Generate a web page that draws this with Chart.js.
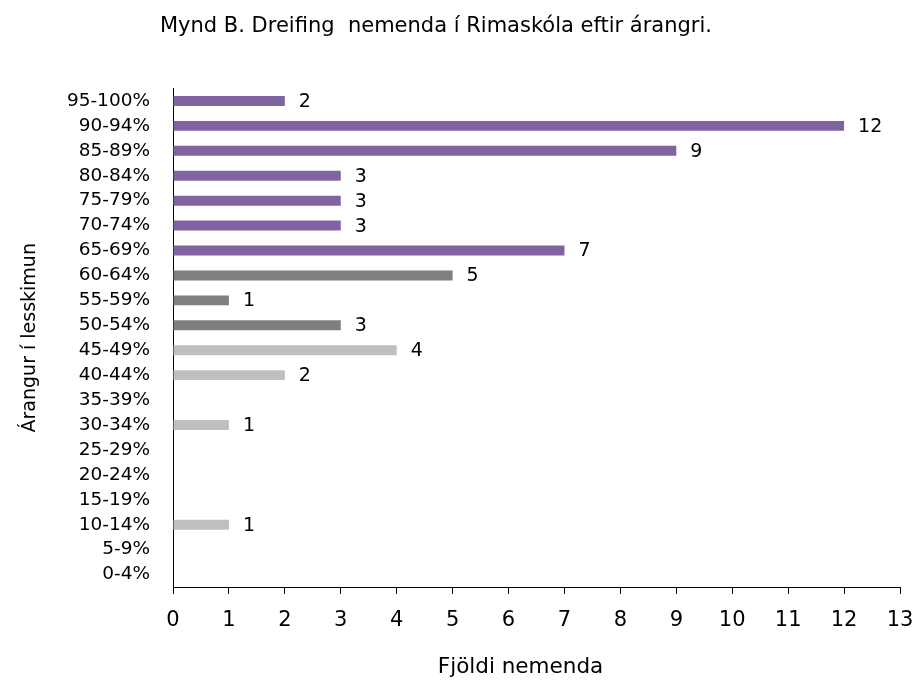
<!DOCTYPE html>
<html>
<head>
<meta charset="utf-8">
<script src="https://cdn.jsdelivr.net/npm/chart.js@4"></script>
<style>
html,body{margin:0;padding:0;background:#fff;}
#wrap{width:917px;height:684px;position:relative;}
#title{position:absolute;left:0;top:11px;width:872px;text-align:center;font-family:'DejaVu Sans',sans-serif;font-size:21px;line-height:28px;color:#000;white-space:pre;}
canvas{position:absolute;left:0;top:0;}
</style>
</head>
<body>
<div id="wrap"><canvas id="c" width="917" height="684"></canvas><div id="title"></div></div>
<script>
const categories = ["95-100%","90-94%","85-89%","80-84%","75-79%","70-74%","65-69%","60-64%","55-59%","50-54%","45-49%","40-44%","35-39%","30-34%","25-29%","20-24%","15-19%","10-14%","5-9%","0-4%"];
const counts = [2,12,9,3,3,3,7,5,1,3,4,2,0,1,0,0,0,1,0,0];
const groups = ["high","high","high","high","high","high","high","mid","mid","mid","low","low","low","low","low","low","low","low","low","low"];
const groupColors = {high:"#8064A2", mid:"#7F7F7F", low:"#BFBFBF"};
const xTicks = [0,1,2,3,4,5,6,7,8,9,10,11,12,13];
const titleText = "Mynd B. Dreifing  nemenda í Rimaskóla eftir árangri.";
const xTitle = "Fjöldi nemenda";
const yTitle = "Árangur í lesskimun";

const FONT = "'DejaVu Sans', sans-serif";
document.getElementById("title").textContent = titleText;

const valueLabels = {
  id: "valueLabels",
  afterDatasetsDraw(chart) {
    const ctx = chart.ctx;
    const meta = chart.getDatasetMeta(0);
    ctx.save();
    ctx.font = "19px " + FONT;
    ctx.fillStyle = "#000";
    ctx.textAlign = "left";
    ctx.textBaseline = "middle";
    meta.data.forEach((bar, i) => {
      const v = counts[i];
      if (!v) return;
      ctx.fillText(String(v), bar.x + 14, bar.y + 1);
    });
    ctx.restore();
  }
};

const xAxisTitle = {
  id: "xAxisTitle",
  afterDraw(chart) {
    const ctx = chart.ctx;
    const ca = chart.chartArea;
    ctx.save();
    ctx.font = "21.5px " + FONT;
    ctx.fillStyle = "#000";
    ctx.textAlign = "center";
    ctx.textBaseline = "middle";
    ctx.fillText(xTitle, (ca.left + ca.right) / 2 - 16, chart.height - 17);
    ctx.restore();
  }
};

new Chart(document.getElementById("c"), {
  type: "bar",
  data: {
    labels: categories,
    datasets: [{
      data: counts,
      backgroundColor: groups.map(g => groupColors[g]),
      borderWidth: 0,
      barPercentage: 0.8,
      categoryPercentage: 0.5
    }]
  },
  options: {
    indexAxis: "y",
    responsive: false,
    animation: false,
    devicePixelRatio: 1,
    layout: { padding: { left: 0, right: 17, top: 88.5, bottom: 0 } },
    plugins: {
      legend: { display: false },
      tooltip: { enabled: false },
      title: { display: false }
    },
    scales: {
      x: {
        type: "linear",
        min: 0,
        max: 13,
        afterBuildTicks(scale) { scale.ticks = xTicks.map(v => ({ value: v })); },
        afterFit(scale) { scale.height = 97; scale.paddingLeft = 0; scale.paddingRight = 0; },
        ticks: {
          color: "#000",
          font: { family: FONT, size: 21 },
          padding: 14,
          maxRotation: 0
        },
        grid: {
          display: true,
          drawOnChartArea: false,
          drawTicks: true,
          tickLength: 7,
          color: "#000",
          lineWidth: 1
        },
        border: { display: true, color: "#000", width: 1 },
        title: { display: false }
      },
      y: {
        type: "category",
        afterFit(scale) { scale.width = 173; scale.paddingTop = 0; scale.paddingBottom = 0; },
        ticks: {
          color: "#000",
          font: { family: FONT, size: 18.5 },
          padding: 23,
          autoSkip: false
        },
        grid: { display: false, drawTicks: false },
        border: { display: true, color: "#000", width: 1 },
        title: {
          display: true,
          text: yTitle,
          color: "#000",
          font: { family: FONT, size: 19, lineHeight: 1.2 },
          padding: { top: 18.6, bottom: 0 }
        }
      }
    }
  },
  plugins: [valueLabels, xAxisTitle]
});
</script>
</body>
</html>
